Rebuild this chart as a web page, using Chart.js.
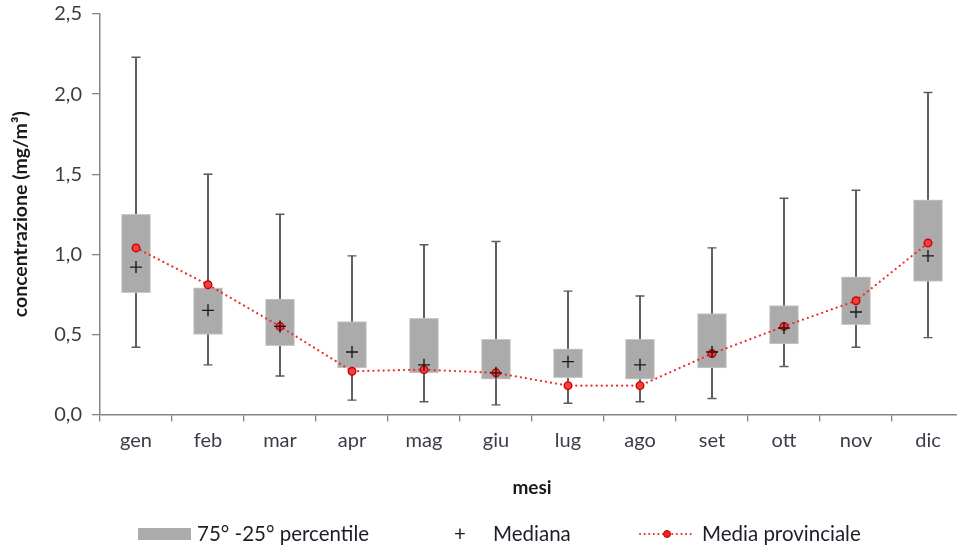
<!DOCTYPE html>
<html lang="it">
<head>
<meta charset="utf-8">
<script src="https://cdn.jsdelivr.net/npm/chart.js@4/dist/chart.umd.min.js"></script>
<style>
  html, body { margin: 0; padding: 0; background: #fff; }
  #wrap { position: relative; width: 957px; height: 547px; overflow: hidden; }
  #chart { position: absolute; left: 0; top: 0; }
  .lg { position: absolute; top: 522px; height: 22px; font-family: Lato, "Open Sans", sans-serif;
        font-size: 20.5px; color: #1e1e28; line-height: 22px; white-space: nowrap; }
</style>
</head>
<body>
<div id="wrap">
  <canvas id="chart" width="972" height="547"></canvas>
  <div class="lg" style="left:138px;top:528px;width:53px;height:12px;background:#ababab;"></div>
  <div class="lg" style="left:197px;">75° -25° percentile</div>
  <div class="lg" style="left:454px;">+</div>
  <div class="lg" style="left:493px;">Mediana</div>
  <svg class="lg" style="left:638px;top:527px;" width="58" height="14">
    <line x1="2" y1="7" x2="56" y2="7" stroke="#ee2a2a" stroke-width="2" stroke-dasharray="0.1 4.5" stroke-linecap="round"/>
    <circle cx="29" cy="7" r="3.5" fill="#e82828" stroke="#cc0000" stroke-width="1"/>
  </svg>
  <div class="lg" style="left:702px;">Media provinciale</div>
</div>
<script>
// Monthly concentration statistics (mg/m³)
const months = ['gen', 'feb', 'mar', 'apr', 'mag', 'giu', 'lug', 'ago', 'set', 'ott', 'nov', 'dic'];
const whiskerLow  = [0.42, 0.31, 0.24, 0.09, 0.08, 0.06, 0.07, 0.08, 0.10, 0.30, 0.42, 0.48];
const whiskerHigh = [2.23, 1.50, 1.25, 0.99, 1.06, 1.08, 0.77, 0.74, 1.04, 1.35, 1.40, 2.01];
const p25 = [0.76, 0.50, 0.43, 0.29, 0.26, 0.22, 0.23, 0.22, 0.29, 0.44, 0.56, 0.83];
const p75 = [1.25, 0.79, 0.72, 0.58, 0.60, 0.47, 0.41, 0.47, 0.63, 0.68, 0.86, 1.34];
const median = [0.92, 0.65, 0.55, 0.39, 0.31, 0.26, 0.33, 0.31, 0.39, 0.54, 0.64, 0.99];
const provincialMean = [1.04, 0.81, 0.55, 0.27, 0.28, 0.26, 0.18, 0.18, 0.38, 0.55, 0.71, 1.07];
const yTicks = [0, 0.5, 1.0, 1.5, 2.0, 2.5];

const FONT = 'Lato, "Open Sans", sans-serif';
const axisColor = '#868686';
const labelColor = '#3c3c48';
const whiskerColor = '#5c5c5c';

new Chart(document.getElementById('chart'), {
  type: 'bar',
  data: {
    labels: months,
    datasets: [
      {
        type: 'bar', label: 'range', order: 5, grouped: false,
        data: months.map((_, i) => [whiskerLow[i], whiskerHigh[i]]),
        backgroundColor: whiskerColor, barThickness: 1.3
      },
      {
        type: 'line', label: 'min', order: 4, showLine: false,
        data: whiskerLow, pointStyle: 'line', pointRadius: 4.5, borderWidth: 1.4,
        borderColor: whiskerColor, pointHoverRadius: 4.5
      },
      {
        type: 'line', label: 'max', order: 4, showLine: false,
        data: whiskerHigh, pointStyle: 'line', pointRadius: 4.5, borderWidth: 1.4,
        borderColor: whiskerColor, pointHoverRadius: 4.5
      },
      {
        type: 'bar', label: '75° -25° percentile', order: 3, grouped: false,
        data: months.map((_, i) => [p25[i], p75[i]]),
        backgroundColor: '#ababab', borderColor: '#c8c8c8', borderWidth: 1, borderSkipped: false,
        barThickness: 29
      },
      {
        type: 'line', label: 'Media provinciale', order: 2,
        data: provincialMean, borderColor: '#ee2a2a', borderWidth: 2.2,
        borderDash: [0.1, 5], borderCapStyle: 'round', tension: 0, fill: false,
        pointStyle: 'circle', pointRadius: 3.8, pointBackgroundColor: '#f04040',
        pointBorderColor: '#d00000', pointBorderWidth: 1.4
      },
      {
        type: 'line', label: 'Mediana', order: 0, showLine: false,
        data: median, pointStyle: 'cross', pointRadius: 6, borderWidth: 1.4,
        borderColor: '#1a1a1a'
      }
    ]
  },
  options: {
    responsive: false,
    animation: false,
    layout: { padding: { top: 14, left: 0, right: 8, bottom: 45 } },
    plugins: { legend: { display: false }, tooltip: { enabled: false } },
    scales: {
      x: {
        offset: true,
        afterFit: s => { s.height = 87.5; s.paddingLeft = 0; s.paddingRight = 0; },
        grid: { offset: true, drawOnChartArea: false, drawTicks: true, tickLength: 7, color: axisColor, lineWidth: 1.3 },
        border: { display: true, color: axisColor, width: 1.5 },
        ticks: { color: labelColor, font: { family: FONT, size: 20 }, padding: 7 },
        title: { display: true, text: 'mesi', color: '#1a1a1a', font: { family: FONT, size: 19, weight: 'bold' }, padding: { top: 0, bottom: 3 } }
      },
      y: {
        min: 0, max: 2.5,
        afterFit: s => { s.width = 100; s.paddingTop = 0; s.paddingBottom = 0; },
        afterBuildTicks: s => { s.ticks = yTicks.map(v => ({ value: v })); },
        grid: { drawOnChartArea: false, drawTicks: true, tickLength: 8, color: axisColor, lineWidth: 1.3 },
        border: { display: true, color: axisColor, width: 1.5 },
        ticks: {
          color: labelColor, font: { family: FONT, size: 20 }, padding: 10,
          callback: v => v.toFixed(1).replace('.', ',')
        },
        title: { display: true, text: 'concentrazione (mg/m³)', color: '#1a1a1a', font: { family: FONT, size: 19.5, weight: 'bold' }, padding: { top: 9, bottom: 0 } }
      }
    }
  }
});
</script>
</body>
</html>
